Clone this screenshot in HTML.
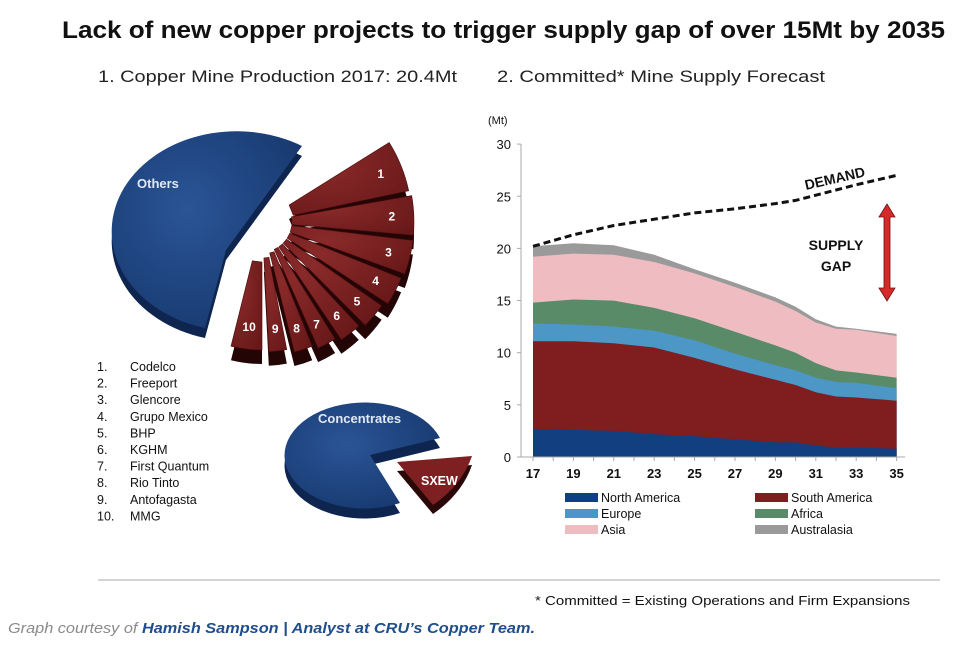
<!DOCTYPE html>
<html><head><meta charset="utf-8"><style>
body{margin:0;background:#fff;width:975px;height:649px;overflow:hidden;font-family:"Liberation Sans",Arial,sans-serif}
svg{position:absolute;left:0;top:0}
</style></head><body>
<svg id="s" width="975" height="649" viewBox="0 0 975 649" font-family="Liberation Sans, Arial, sans-serif">
<defs>
<radialGradient id="bg1" cx="0.4" cy="0.4" r="0.7"><stop offset="0" stop-color="#2a5596"/><stop offset="1" stop-color="#17386e"/></radialGradient>
<radialGradient id="rg1" cx="0.3" cy="0.3" r="0.9"><stop offset="0" stop-color="#8a2a2a"/><stop offset="1" stop-color="#681819"/></radialGradient>
</defs>
<text x="62" y="38" font-size="24" font-weight="bold" fill="#111" textLength="883" lengthAdjust="spacingAndGlyphs">Lack of new copper projects to trigger supply gap of over 15Mt by 2035</text>
<text x="98" y="82" font-size="17" fill="#222" textLength="359" lengthAdjust="spacingAndGlyphs">1. Copper Mine Production 2017: 20.4Mt</text>
<text x="497" y="82" font-size="17" fill="#222" textLength="328" lengthAdjust="spacingAndGlyphs">2. Committed* Mine Supply Forecast</text>

<!-- Others pie -->
<path d="M226 250 L302 146 A125 100 0 1 0 205 328 Z" fill="#0e2550" transform="translate(0,10)"/>
<path d="M226 250 L302 146 A125 100 0 1 0 205 328 Z" fill="url(#bg1)"/>
<text x="137" y="188" font-size="13" font-weight="bold" fill="#dfe8f5">Others</text>
<g id="wedges"></g>

<!-- Concentrates -->
<path d="M370 455 L440 438 A80 53 0 1 0 400 503 Z" fill="#0e2550" transform="translate(0,10)"/>
<path d="M370 455 L440 438 A80 53 0 1 0 400 503 Z" fill="url(#bg1)"/>
<text x="318" y="423" font-size="13" font-weight="bold" fill="#dfe8f5">Concentrates</text>
<path d="M397 462 L472 456 Q462 485 433 505 Z" fill="#2a0808" transform="translate(0,9)"/>
<path d="M397 462 L472 456 Q462 485 433 505 Z" fill="#7e2022"/>
<text x="421" y="485" font-size="12.5" font-weight="bold" fill="#fff">SXEW</text>

<g font-size="12.5" fill="#111" id="names"></g>

<!-- chart -->
<g id="chart"></g>
<line x1="98" y1="580" x2="940" y2="580" stroke="#d4d4d4" stroke-width="2"/>
<text x="535" y="605" font-size="13" fill="#111" textLength="375" lengthAdjust="spacingAndGlyphs">* Committed = Existing Operations and Firm Expansions</text>
<text x="8" y="633" font-size="15" font-style="italic" fill="#8a8a8a" textLength="527" lengthAdjust="spacingAndGlyphs">Graph courtesy of <tspan fill="#1f4e8c" font-weight="bold">Hamish Sampson | Analyst at CRU’s Copper Team.</tspan></text>
</svg>
<script>
const NS="http://www.w3.org/2000/svg";
function el(p,t,a,txt){const e=document.createElementNS(NS,t);for(const k in a)e.setAttribute(k,a[k]);if(txt!=null)e.textContent=txt;p.appendChild(e);return e;}
const W=document.getElementById('wedges');
const cx=262,cy=222;
const ang=[[-32,-12],[-10,5],[7,20],[22,33],[35,45],[47,56],[58,66],[68,76],[79,87],[90,104]];
const rad=[150,152,152,150,146,142,138,134,130,128];
const rin=[32,30,30,30,30,30,30,32,36,40];
function wp(a0,a1,r0,r1){const t=Math.PI/180;
 const p=(a,r)=>(cx+r*Math.cos(a*t)).toFixed(1)+' '+(cy+r*Math.sin(a*t)).toFixed(1);
 return `M${p(a0,r0)} L${p(a0,r1)} A${r1} ${r1} 0 0 1 ${p(a1,r1)} L${p(a1,r0)} Z`;}
for(let i=0;i<10;i++){const d=wp(ang[i][0],ang[i][1],rin[i],rad[i]);
 el(W,'path',{d,fill:'#240505',transform:'translate(0,14)'});}
for(let i=0;i<10;i++){const d=wp(ang[i][0],ang[i][1],rin[i],rad[i]);
 el(W,'path',{d,fill:'url(#rg1)',stroke:'#4a0c0c','stroke-width':0.6});
 const m=(ang[i][0]+ang[i][1])/2*Math.PI/180,r=rad[i]-22;
 el(W,'text',{x:cx+r*Math.cos(m),y:cy+r*Math.sin(m)+4,'font-size':12,'font-weight':'bold',fill:'#fff','text-anchor':'middle'},String(i+1));}
const N=document.getElementById('names');
const nm=["Codelco","Freeport","Glencore","Grupo Mexico","BHP","KGHM","First Quantum","Rio Tinto","Antofagasta","MMG"];
nm.forEach((n,i)=>{const y=371+i*16.6;el(N,'text',{x:97,y},(i+1)+'.');el(N,'text',{x:130,y},n);});
const C=document.getElementById('chart');
const X=v=>533+(v-17)*20.2, Y=v=>457-v*10.43;
const yrs=[17,19,21,23,25,27,29,30,31,32,33,35];
const S=[
[2.7,2.6,2.5,2.2,2.0,1.7,1.4,1.4,1.1,0.9,0.9,0.8],
[11.1,11.1,10.9,10.5,9.5,8.4,7.4,6.9,6.2,5.8,5.7,5.4],
[12.8,12.7,12.5,12.1,11.2,9.9,8.8,8.3,7.6,7.2,7.1,6.6],
[14.8,15.1,15.0,14.3,13.3,12.0,10.7,10.0,9.0,8.3,8.1,7.6],
[19.2,19.5,19.4,18.7,17.6,16.3,14.9,14.0,12.9,12.3,12.2,11.6],
[20.2,20.5,20.3,19.4,18.0,16.7,15.3,14.4,13.2,12.5,12.3,11.8]];
const cols=["#123f80","#7f1d1f","#4c97c5","#5a8b68","#efbcc2","#9a9a9a"];
for(let k=5;k>=0;k--){let d='M'+X(17)+' '+Y(0);yrs.forEach((y,i)=>d+=' L'+X(y).toFixed(1)+' '+Y(S[k][i]).toFixed(1));d+=' L'+X(35)+' '+Y(0)+' Z';el(C,'path',{d,fill:cols[k]});}
el(C,'line',{x1:521,y1:144,x2:521,y2:457,stroke:'#aaa'});
el(C,'line',{x1:521,y1:457,x2:905,y2:457,stroke:'#aaa'});
for(let v=0;v<=30;v+=5){el(C,'line',{x1:517,x2:521,y1:Y(v),y2:Y(v),stroke:'#aaa'});el(C,'text',{x:511,y:Y(v)+5,'font-size':13,'text-anchor':'end',fill:'#111'},v);}
for(let y=17;y<=35;y++){el(C,'line',{x1:X(y),x2:X(y),y1:457,y2:461,stroke:'#aaa'});if(y%2)el(C,'text',{x:X(y),y:478,'font-size':13,'font-weight':'bold','text-anchor':'middle',fill:'#111'},y);}
el(C,'text',{x:488,y:124,'font-size':11,fill:'#111'},'(Mt)');
const dy=[20.2,21.3,22.2,22.8,23.4,23.8,24.3,24.6,25.1,25.6,26.1,27.0];
let dd='M';yrs.forEach((y,i)=>dd+=(i?' L':'')+X(y).toFixed(1)+' '+Y(dy[i]).toFixed(1));
el(C,'path',{d:dd,fill:'none',stroke:'#111','stroke-width':3,'stroke-dasharray':'7 4'});
el(C,'text',{x:0,y:0,'font-size':14,'font-weight':'bold',fill:'#111',transform:'translate(806,190) rotate(-13)'},'DEMAND');
el(C,'text',{x:836,y:250,'font-size':14,'font-weight':'bold','text-anchor':'middle',fill:'#111'},'SUPPLY');
el(C,'text',{x:836,y:271,'font-size':14,'font-weight':'bold','text-anchor':'middle',fill:'#111'},'GAP');
el(C,'path',{d:'M887 204 L879 217 L884 217 L884 288 L879 288 L887 301 L895 288 L890 288 L890 217 L895 217 Z',fill:'#d62a2a',stroke:'#6a1010','stroke-width':0.8});
const L=[["North America",0,565,502],["South America",1,755,502],["Europe",2,565,518],["Africa",3,755,518],["Asia",4,565,534],["Australasia",5,755,534]];
L.forEach(([t,c,x,y])=>{el(C,'rect',{x,y:y-9,width:33,height:9,fill:cols[c]});el(C,'text',{x:x+36,y,'font-size':12.5,fill:'#111'},t);});
</script>
</body></html>
